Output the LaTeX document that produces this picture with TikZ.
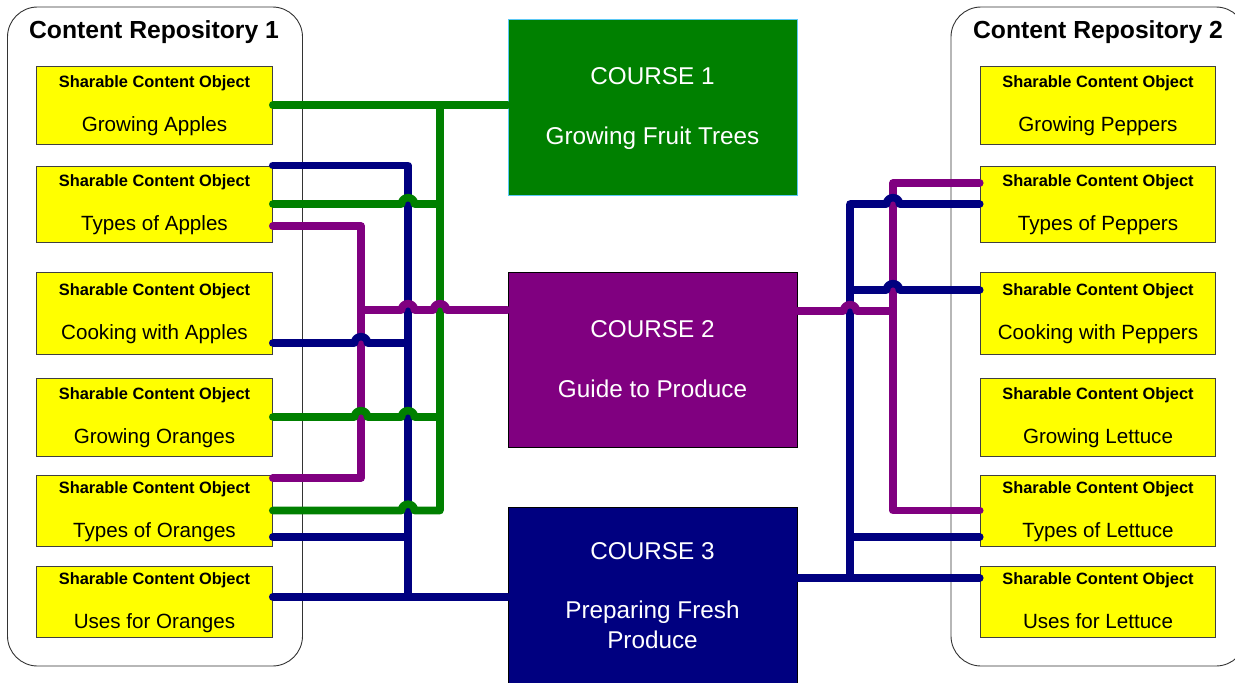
\documentclass[tikz,border=0pt]{standalone}
\usepackage{fontspec}
\setmainfont{Liberation Sans}

\definecolor{scoyellow}{HTML}{FFFF00}
\definecolor{cgreen}{HTML}{008000}
\definecolor{cpurple}{HTML}{800080}
\definecolor{cnavy}{HTML}{000080}
\definecolor{cedge}{HTML}{5BC8F5}

\tikzset{
  repo/.style={draw=black!80, line width=0.9pt, rounded corners=30pt, fill=white,
               minimum width=295pt, minimum height=659pt, inner sep=0pt},
  repotitle/.style={font=\bfseries\fontsize{24.7}{28}\selectfont, inner sep=0pt, anchor=base},
  sco/.style={draw=black!75, line width=1pt, fill=scoyellow, minimum width=235.5pt, inner sep=0pt},
  scohead/.style={font=\bfseries\fontsize{16.4}{19}\selectfont, inner sep=0pt, anchor=base},
  sconame/.style={font=\fontsize{20.6}{24}\selectfont, inner sep=0pt, anchor=base},
  course/.style={line width=0.8pt, minimum width=289pt, inner sep=0pt},
  coursetext/.style={text=white, font=\fontsize{24.3}{28}\selectfont, inner sep=0pt, anchor=base},
  wire/.style={line width=7.6pt, line cap=round, line join=round},
  gline/.style={wire, draw=cgreen},
  nline/.style={wire, draw=cnavy},
  uline/.style={wire, draw=cpurple},
  % small bridge where a horizontal wire passes over a vertical one
  jump/.style={insert path={coordinate (jmp) -- ([xshift=-6.5pt]#1 |- jmp)
      .. controls +(0pt,8.4pt) and +(0pt,8.4pt) .. ([xshift=6.5pt]#1 |- jmp)}}
}

% one yellow content object box with its two lines of text
\newcommand\scobox[5]{%
  \node[sco, minimum height=#4pt] (#1) at (#2,{#3+#4/2}) {};
  \node[scohead] (#1h) at ([yshift=17.5pt]#1.center) {Sharable Content Object};
  \node[sconame] (#1n) at ([yshift=-26.5pt]#1.center) {#5};
}

\begin{document}
\begin{tikzpicture}[x=1pt, y=-1pt]
\useasboundingbox (0,0) rectangle (1235,683);

% repositories
\node[repo] (rep1) at (155,336.5) {};
\node[repotitle] (rep1t) at (154,38) {Content Repository 1};
\node[repo] (rep2) at (1098.5,336.5) {};
\node[repotitle] (rep2t) at (1098,38) {Content Repository 2};

% content objects, repository 1
\scobox{l1}{154.5}{66}{78}{Growing Apples}
\scobox{l2}{154.5}{166}{76}{Types of Apples}
\scobox{l3}{154.5}{272}{82}{Cooking with Apples}
\scobox{l4}{154.5}{378}{78}{Growing Oranges}
\scobox{l5}{154.5}{475}{71}{Types of Oranges}
\scobox{l6}{154.5}{566}{71}{Uses for Oranges}

% content objects, repository 2
\scobox{r1}{1098}{66}{78}{Growing Peppers}
\scobox{r2}{1098}{166}{76}{Types of Peppers}
\scobox{r3}{1098}{272}{82}{Cooking with Peppers}
\scobox{r4}{1098}{378}{78}{Growing Lettuce}
\scobox{r5}{1098}{475}{71}{Types of Lettuce}
\scobox{r6}{1098}{566}{71}{Uses for Lettuce}

% courses
\node[course, fill=cgreen, draw=cedge, minimum height=176pt] (c1) at (652.5,107) {};
\node[course, fill=cpurple, draw=black, minimum height=175pt] (c2) at (652.5,359.5) {};
\node[course, fill=cnavy, draw=black, minimum height=183pt] (c3) at (652.5,598.5) {};
\node[coursetext] (c1a) at (652.5,84) {COURSE 1};
\node[coursetext] (c1b) at (652.5,144) {Growing Fruit Trees};
\node[coursetext] (c2a) at (652.5,337.5) {COURSE 2};
\node[coursetext] (c2b) at (652.5,397.5) {Guide to Produce};
\node[coursetext] (c3a) at (652.5,559) {COURSE 3};
\node[coursetext] (c3b) at (652.5,618) {Preparing Fresh};
\node[coursetext] (c3c) at (652.5,648) {Produce};

% bus positions
\coordinate (ux) at (361,0);
\coordinate (nx) at (408,0);
\coordinate (gx) at (440,0);
\coordinate (nxr) at (850,0);
\coordinate (uxr) at (893,0);

% attachment points
\coordinate (n6) at ([yshift=4.8pt]l6.east);
\coordinate (u2) at ([yshift=-22pt]l2.east);
\coordinate (u5) at ([yshift=32.5pt]l5.east);
\coordinate (n3) at ([yshift=-30pt]l3.east);
\coordinate (n5) at ([yshift=-26.5pt]l5.east);
\coordinate (uc2) at ([yshift=49.5pt]c2.west);
\coordinate (ur2) at ([yshift=21pt]r2.west);
\coordinate (nr3) at ([yshift=23pt]r3.west);
\coordinate (nr5) at ([yshift=-26.5pt]r5.west);
\coordinate (nr6) at ([yshift=23.5pt]r6.west);
\coordinate (uc2r) at ([yshift=48.5pt]c2.east);

% --- left side wiring ---
\draw[nline] (l2.north east) -- (nx |- l2.north east) -- (nx |- n6);
\draw[nline] (n6) -- (n6 -| c3.west);
\draw[uline] (u2) -- (ux |- u2) -- (ux |- u5) -- (u5);
\draw[gline] (l5.east) [jump=nx] -- (gx |- l5.east) -- (gx |- l1.east);
\draw[gline] (l1.east) -- (l1.east -| c1.west);
\draw[gline] (l2.east) [jump=nx] -- (gx |- l2.east);
\draw[gline] (l4.east) [jump=ux] [jump=nx] -- (gx |- l4.east);
\draw[nline] (n3) [jump=ux] -- (nx |- n3);
\draw[nline] (n5) -- (nx |- n5);
\draw[uline] (ux |- uc2) [jump=nx] [jump=gx] -- (uc2);

% --- right side wiring ---
\draw[uline] (ur2) -- (uxr |- ur2) -- (uxr |- r5.west) -- (r5.west);
\draw[nline] (nxr |- nr6) -- (nxr |- r2.west) [jump=uxr] -- (r2.west);
\draw[nline] (nxr |- nr3) [jump=uxr] -- (nr3);
\draw[nline] (nxr |- nr5) -- (nr5);
\draw[nline] (nr6 -| c3.east) -- (nr6);
\draw[uline] (uc2r) [jump=nxr] -- (uxr |- uc2r);
\end{tikzpicture}
\end{document}
